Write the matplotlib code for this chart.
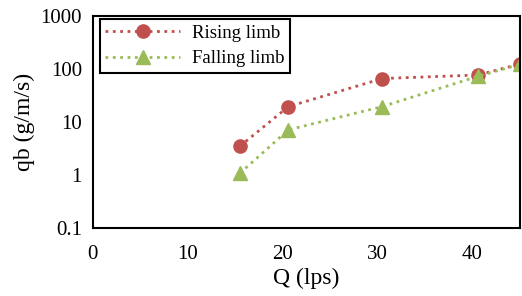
import matplotlib
matplotlib.use('Agg')
import matplotlib.pyplot as plt

# data
q_rising = [15.5, 20.6, 30.5, 40.6, 45.0]
qb_rising = [3.5, 19.5, 66, 77, 124]
q_falling = [15.5, 20.6, 30.5, 40.6, 45.0]
qb_falling = [1.08, 7.1, 19.5, 73, 122]

x_ticks = [0, 10, 20, 30, 40]
y_ticks = [0.1, 1, 10, 100, 1000]
y_tick_labels = ['0.1', '1', '10', '100', '1000']

plt.rcParams['font.family'] = ['Liberation Serif', 'DejaVu Serif']

fig = plt.figure(figsize=(5.22, 2.96), dpi=100)
ax = fig.add_axes([0.178, 0.23, 0.818, 0.716])

ax.plot(q_rising, qb_rising, linestyle=':', color='#C0504D', lw=2,
        marker='o', ms=9.5, label='Rising limb')
ax.plot(q_falling, qb_falling, linestyle=':', color='#9BBB59', lw=2,
        marker='^', ms=9.5, label='Falling limb')

ax.set_yscale('log')
ax.set_xlim(0, 45)
ax.set_ylim(0.1, 1000)
ax.set_xticks(x_ticks)
ax.set_yticks(y_ticks)
ax.set_yticklabels(y_tick_labels)
ax.minorticks_off()
ax.tick_params(length=0, labelsize=15)
ax.tick_params(axis='x', pad=12)
ax.tick_params(axis='y', pad=8)

for s in ax.spines.values():
    s.set_linewidth(1.5)

ax.set_xlabel('Q (lps)', fontsize=17, labelpad=3)
ax.set_ylabel('qb (g/m/s)', fontsize=17, labelpad=4)

leg = ax.legend(loc='upper left', bbox_to_anchor=(0.016, 0.985),
                borderaxespad=0, fontsize=13.5, fancybox=False, framealpha=1,
                edgecolor='black', handlelength=4.0,
                borderpad=0.3, labelspacing=0.45, handletextpad=0.6)
leg.get_frame().set_linewidth(1.5)

plt.savefig('out.png', dpi=100)
